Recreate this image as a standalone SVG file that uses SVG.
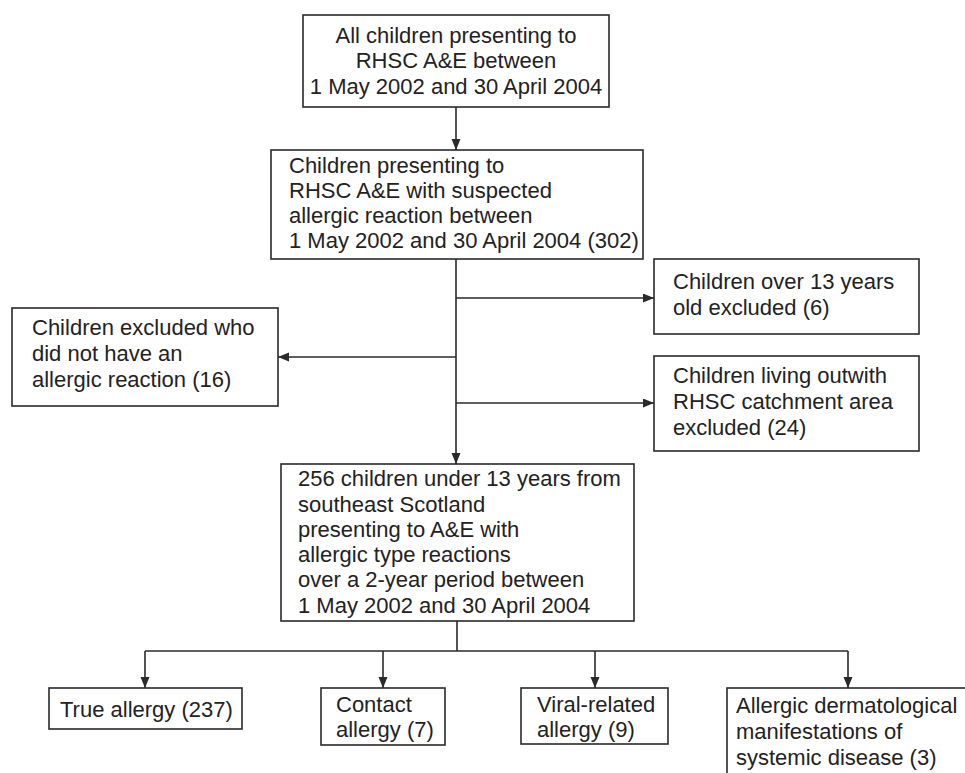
<svg xmlns="http://www.w3.org/2000/svg" width="965" height="773" viewBox="0 0 965 773">
<style>
.box{fill:#fff;stroke:#2a2a2a;stroke-width:1.6}
.t{font-family:"Liberation Sans",Arial,sans-serif;font-size:22px;fill:#222}
.c{text-anchor:middle}
.ln{fill:none;stroke:#2a2a2a;stroke-width:1.6}
</style>
<defs>
<marker id="ah" markerUnits="userSpaceOnUse" markerWidth="12" markerHeight="10" refX="11" refY="4.5" orient="auto">
<path d="M0,0 L11,4.5 L0,9 z" fill="#2a2a2a"/>
</marker>
</defs>
<rect width="965" height="773" fill="#fff"/>
<g id="connectors">
<line class="ln" x1="456" y1="107" x2="456" y2="150" marker-end="url(#ah)"/>
<line class="ln" x1="456" y1="259" x2="456" y2="464" marker-end="url(#ah)"/>
<line class="ln" x1="456" y1="298" x2="654" y2="298" marker-end="url(#ah)"/>
<line class="ln" x1="456" y1="357" x2="278" y2="357" marker-end="url(#ah)"/>
<line class="ln" x1="456" y1="403" x2="654" y2="403" marker-end="url(#ah)"/>
<line class="ln" x1="457" y1="621" x2="457" y2="651"/>
<line class="ln" x1="145" y1="651" x2="848" y2="651"/>
<line class="ln" x1="145" y1="651" x2="145" y2="688" marker-end="url(#ah)"/>
<line class="ln" x1="383" y1="651" x2="383" y2="688" marker-end="url(#ah)"/>
<line class="ln" x1="595" y1="651" x2="595" y2="688" marker-end="url(#ah)"/>
<line class="ln" x1="848" y1="651" x2="848" y2="688" marker-end="url(#ah)"/>
</g>
<g id="n1">
<rect class="box" x="303" y="15" width="306" height="92"/>
<text class="t c" x="456" y="43">All children presenting to</text>
<text class="t c" x="456" y="68">RHSC A&amp;E between</text>
<text class="t c" x="456" y="94">1 May 2002 and 30 April 2004</text>
</g>
<g id="n2">
<rect class="box" x="271" y="150" width="372" height="109"/>
<text class="t" x="289" y="173">Children presenting to</text>
<text class="t" x="289" y="198">RHSC A&amp;E with suspected</text>
<text class="t" x="289" y="223">allergic reaction between</text>
<text class="t" x="289" y="248">1 May 2002 and 30 April 2004 (302)</text>
</g>
<g id="n3">
<rect class="box" x="654" y="259" width="265" height="75"/>
<text class="t" x="673" y="289">Children over 13 years</text>
<text class="t" x="673" y="315">old excluded (6)</text>
</g>
<g id="n4">
<rect class="box" x="12" y="308" width="266" height="98"/>
<text class="t" x="32" y="335">Children excluded who</text>
<text class="t" x="32" y="361">did not have an</text>
<text class="t" x="32" y="387">allergic reaction (16)</text>
</g>
<g id="n5">
<rect class="box" x="654" y="356" width="265" height="95"/>
<text class="t" x="673" y="383">Children living outwith</text>
<text class="t" x="673" y="409">RHSC catchment area</text>
<text class="t" x="673" y="435">excluded (24)</text>
</g>
<g id="n6">
<rect class="box" x="281" y="464" width="353" height="157"/>
<text class="t" x="298" y="486">256 children under 13 years from</text>
<text class="t" x="298" y="512">southeast Scotland</text>
<text class="t" x="298" y="537">presenting to A&amp;E with</text>
<text class="t" x="298" y="562">allergic type reactions</text>
<text class="t" x="298" y="587">over a 2-year period between</text>
<text class="t" x="298" y="613">1 May 2002 and 30 April 2004</text>
</g>
<g id="n7">
<rect class="box" x="49" y="688" width="193" height="41"/>
<text class="t" x="60" y="717">True allergy (237)</text>
</g>
<g id="n8">
<rect class="box" x="321" y="688" width="124" height="57"/>
<text class="t" x="336" y="712">Contact</text>
<text class="t" x="336" y="737">allergy (7)</text>
</g>
<g id="n9">
<rect class="box" x="521" y="688" width="147" height="56"/>
<text class="t" x="537" y="712">Viral-related</text>
<text class="t" x="537" y="737">allergy (9)</text>
</g>
<g id="n10">
<rect class="box" x="727" y="688" width="250" height="100"/>
<text class="t" x="736" y="713">Allergic dermatological</text>
<text class="t" x="736" y="739">manifestations of</text>
<text class="t" x="736" y="765">systemic disease (3)</text>
</g>
</svg>
